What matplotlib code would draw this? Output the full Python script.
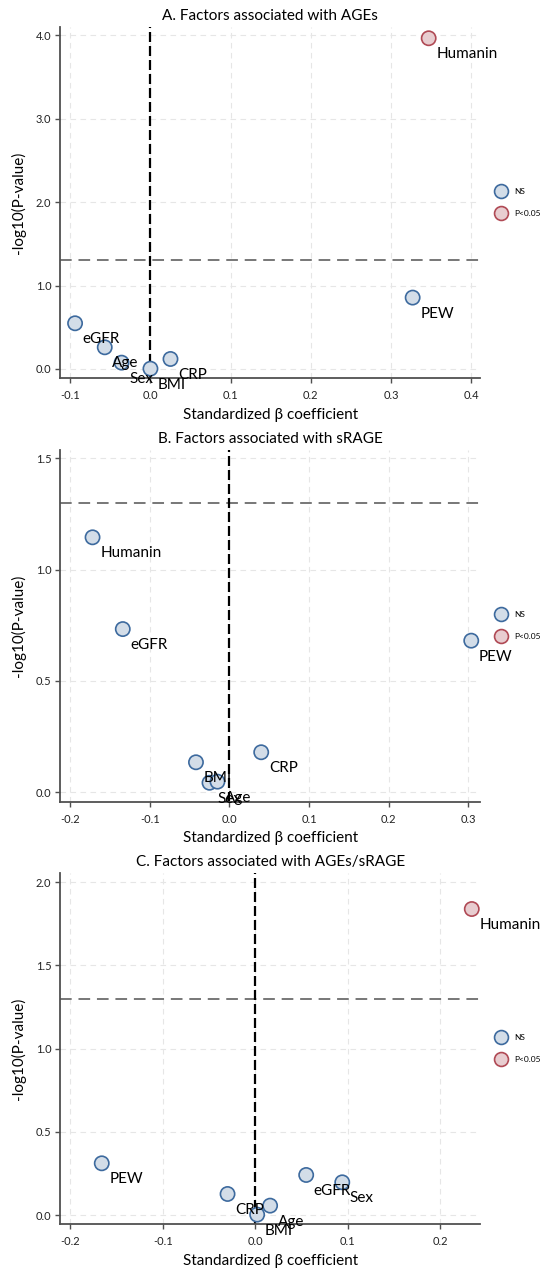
import matplotlib
matplotlib.use("Agg")
import matplotlib.pyplot as plt
from matplotlib.lines import Line2D

plt.rcParams['font.family'] = ['Lato', 'DejaVu Sans']

# ---------------- data ----------------
A_labels = ["Humanin", "PEW", "eGFR", "Age", "Sex", "BMI", "CRP"]
A_beta = [0.347, 0.327, -0.094, -0.057, -0.036, 0.000, 0.025]
A_logp = [3.965, 0.856, 0.548, 0.260, 0.076, 0.004, 0.120]
A_sig = [True, False, False, False, False, False, False]

B_labels = ["Humanin", "eGFR", "PEW", "CRP", "BMI", "Sex", "Age"]
B_beta = [-0.172, -0.134, 0.304, 0.040, -0.042, -0.025, -0.015]
B_logp = [1.145, 0.733, 0.681, 0.180, 0.135, 0.043, 0.048]
B_sig = [False, False, False, False, False, False, False]

C_labels = ["Humanin", "PEW", "CRP", "Age", "BMI", "eGFR", "Sex"]
C_beta = [0.234, -0.166, -0.030, 0.016, 0.002, 0.055, 0.094]
C_logp = [1.838, 0.312, 0.128, 0.058, 0.004, 0.242, 0.198]
C_sig = [True, False, False, False, False, False, False]

titles = ["A. Factors associated with AGEs",
          "B. Factors associated with sRAGE",
          "C. Factors associated with AGEs/sRAGE"]
A_xticks = [-0.1, 0.0, 0.1, 0.2, 0.3, 0.4]
A_yticks = [0.0, 1.0, 2.0, 3.0, 4.0]
B_xticks = [-0.2, -0.1, 0.0, 0.1, 0.2, 0.3]
B_yticks = [0.0, 0.5, 1.0, 1.5]
C_xticks = [-0.2, -0.1, 0.0, 0.1, 0.2]
C_yticks = [0.0, 0.5, 1.0, 1.5, 2.0]
sig_threshold = 1.301  # -log10(0.05)
legend_labels = ["NS", "P<0.05"]

# ---------------- style ----------------
W, H = 550, 1273
NS_FACE, NS_EDGE = "#d3dde8", "#3d6a9e"
SG_FACE, SG_EDGE = "#e8cdd0", "#b04a55"

fig = plt.figure(figsize=(W / 100, H / 100), dpi=100)

panels = [
    (A_labels, A_beta, A_logp, A_sig, A_xticks, A_yticks, (-0.1123, 0.411), (-0.108, 4.10), 27, 378),
    (B_labels, B_beta, B_logp, B_sig, B_xticks, B_yticks, (-0.2124, 0.315), (-0.042, 1.537), 450, 801.7),
    (C_labels, C_beta, C_logp, C_sig, C_xticks, C_yticks, (-0.2107, 0.2429), (-0.054, 2.056), 872.7, 1224.3),
]
left_px, right_px = 60.4, 480

for i, (labs, beta, logp, sig, xt, yt, xl, yl, top_px, bot_px) in enumerate(panels):
    ax = fig.add_axes([left_px / W, 1 - bot_px / H, (right_px - left_px) / W, (bot_px - top_px) / H])
    ax.set_xlim(*xl)
    ax.set_ylim(*yl)
    ax.set_xticks(xt)
    ax.set_yticks(yt)
    ax.set_xticklabels([f"{v:.1f}" for v in xt])
    ax.set_yticklabels([f"{v:.1f}" for v in yt])
    ax.grid(True, color="#e6e6e6", linestyle=(0, (5, 4)), linewidth=0.8, zorder=0)
    ax.set_axisbelow(True)
    for s in ["top", "right"]:
        ax.spines[s].set_visible(False)
    for s in ["left", "bottom"]:
        ax.spines[s].set_color("#505050")
        ax.spines[s].set_linewidth(1.3)
    ax.tick_params(axis="both", direction="out", length=3.5, width=1.0, color="#505050",
                   labelsize=8, labelcolor="#222222")
    ax.tick_params(axis="x", pad=5)
    ax.tick_params(axis="y", pad=3)

    ax.axhline(sig_threshold, color="#777777", linewidth=1.4, linestyle=(0, (6, 3.5)), zorder=1)
    ax.axvline(0, color="black", linewidth=1.6, linestyle=(0, (4.5, 1.8)), zorder=1)

    faces = [SG_FACE if s else NS_FACE for s in sig]
    edges = [SG_EDGE if s else NS_EDGE for s in sig]
    ax.scatter(beta, logp, s=105, c=faces, edgecolors=edges, linewidths=1.2, zorder=3)
    for lab, x, y in zip(labs, beta, logp):
        ax.annotate(lab, (x, y), xytext=(5.5, -6.5), textcoords="offset points",
                    ha="left", va="top", fontsize=11, color="black", zorder=4,
                    annotation_clip=False)

    ax.set_title(titles[i], fontsize=11, pad=5)
    ax.set_xlabel("Standardized β coefficient", fontsize=11, labelpad=5)
    ax.set_ylabel("-log10(P-value)", fontsize=11, labelpad=7)

    handles = [
        Line2D([], [], marker="o", linestyle="none", markersize=10, markerfacecolor=NS_FACE,
               markeredgecolor=NS_EDGE, markeredgewidth=1.2),
        Line2D([], [], marker="o", linestyle="none", markersize=10, markerfacecolor=SG_FACE,
               markeredgecolor=SG_EDGE, markeredgewidth=1.2),
    ]
    leg_y = top_px + (bot_px - top_px) * 0.5
    ax.legend(handles, legend_labels, loc="center left", frameon=False, fontsize=6,
              bbox_to_anchor=(493 / W, 1 - leg_y / H), bbox_transform=fig.transFigure,
              handletextpad=1.0, labelspacing=1.8, borderpad=0, handlelength=1.0)

fig.savefig("out.png", dpi=100)
